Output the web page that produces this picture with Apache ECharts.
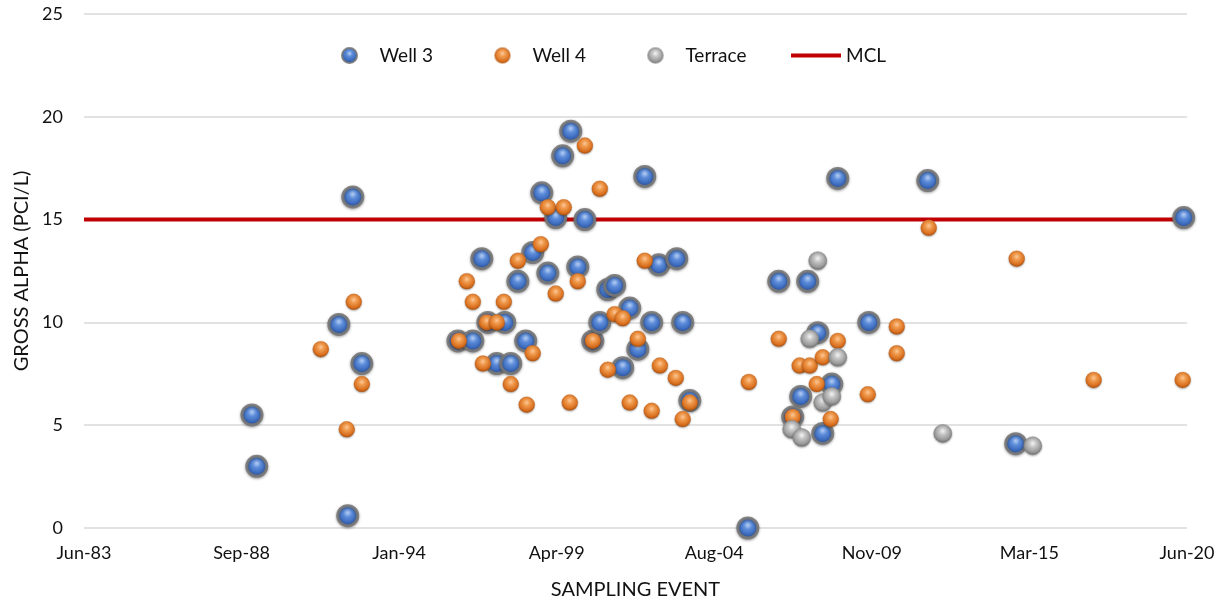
<!DOCTYPE html>
<html>
<head>
<meta charset="utf-8">
<script src="https://cdn.jsdelivr.net/npm/echarts@6/dist/echarts.min.js"></script>
<style>
html,body{margin:0;padding:0;background:#fff;}
#chart{width:1223px;height:604px;}
</style>
</head>
<body>
<div id="chart"></div>
<script>
// ---- data ----
const well3Dates = ['1989-02-01','1989-04-01','1992-01-02','1992-06-21','1992-04-20','1992-10-10','1996-01-01','1996-07-01','1996-10-19','1997-01-01','1997-07-27','1997-04-20','1997-10-09','1998-01-04','1998-04-10','1998-07-05','1998-10-24','1999-01-06','1999-04-13','1999-07-07','1999-10-14','2000-01-08','2000-04-04','2000-07-10','2000-10-04','2001-01-10','2001-04-04','2001-10-06','2001-07-12','2002-01-13','2002-04-08','2002-07-02','2002-09-27','2003-05-05','2003-07-17','2003-10-12','2005-09-22','2006-10-06','2007-09-26','2007-07-02','2007-03-26','2008-01-27','2008-07-17','2008-03-28','2008-09-28','2009-10-13','2011-10-06','2014-09-18','2020-05-08'];
const well3Values = [5.5,3.0,9.9,16.1,0.6,8.0,9.1,9.1,13.1,10.0,10.0,8.0,8.0,12.0,9.1,13.4,16.3,12.4,15.1,18.1,19.3,12.7,15.0,9.1,10.0,11.6,11.8,10.7,7.8,8.7,17.1,10.0,12.8,13.1,10.0,6.2,0.0,12.0,12.0,6.4,5.4,9.5,7.0,4.6,17.0,10.0,16.9,4.1,15.1];

const well4Dates = ['1991-05-26','1992-07-03','1992-04-08','1992-10-10','1996-01-11','1996-04-18','1996-07-01','1996-11-01','1996-12-20','1997-04-20','1997-07-16','1997-10-09','1998-01-04','1998-04-22','1998-07-05','1998-10-12','1999-01-06','1999-04-13','1999-07-20','1999-10-02','2000-01-08','2000-04-04','2000-07-10','2000-10-04','2001-01-10','2001-04-04','2001-07-12','2001-10-06','2002-01-13','2002-04-08','2002-07-02','2002-10-10','2003-04-23','2003-07-17','2003-10-12','2005-10-04','2006-10-06','2007-03-26','2007-06-20','2007-10-21','2008-01-15','2008-03-28','2008-07-04','2008-09-28','2009-10-01','2010-09-21','2010-09-21','2011-10-18','2014-09-30','2017-04-30','2020-04-25'];
const well4Values = [8.7,11.0,4.8,7.0,9.1,12.0,11.0,8.0,10.0,10.0,11.0,7.0,13.0,6.0,8.5,13.8,15.6,11.4,15.6,6.1,12.0,18.6,9.1,16.5,7.7,10.4,10.2,6.1,9.2,13.0,5.7,7.9,7.3,5.3,6.1,7.1,9.2,5.4,7.9,7.9,7.0,8.3,5.3,9.1,6.5,9.8,8.5,14.6,13.1,7.2,7.2];

const terraceDates = ['2007-03-14','2007-07-15','2007-10-21','2008-01-27','2008-03-28','2008-07-17','2008-09-28','2012-04-07','2015-04-15'];
const terraceValues = [4.8,4.4,9.2,13.0,6.1,6.4,8.3,4.6,4.0];

const mclDates = ['1983-06-15','2020-06-17'];
const mclValues = [15,15];

const xTickLabels = ['Jun-83','Sep-88','Jan-94','Apr-99','Aug-04','Nov-09','Mar-15','Jun-20'];
const yTicks = [0,5,10,15,20,25];

// ---- helpers ----
const AXIS_START = '1983-06-15';
const TICK_DAYS = 1931;
function dayOffset(s){
  const p = s.split('-').map(Number);
  const q = AXIS_START.split('-').map(Number);
  return (Date.UTC(p[0],p[1]-1,p[2]) - Date.UTC(q[0],q[1]-1,q[2]))/86400000;
}
function pairs(dates, vals){ return dates.map((d,i)=>[dayOffset(d), vals[i]]); }

function sphere(stops){
  return {type:'radial', x:0.5, y:0.38, r:0.62,
    colorStops: stops.map((c,i)=>({offset:[0,0.3,0.75,1][i], color:c}))};
}
const FONT = 'Lato';
const TXT = '#111111';
const legendText = {fontFamily:FONT, fontSize:19, color:TXT};

const chart = echarts.init(document.getElementById('chart'), null, {renderer:'canvas'});
chart.setOption({
  backgroundColor:'#ffffff',
  animation:false,
  textStyle:{fontFamily:FONT},
  grid:{left:84, right:36, top:14, bottom:76, containLabel:false, outerBoundsMode:'none'},
  legend:[
    {
      left:336, top:41, itemGap:61, itemWidth:50, itemHeight:15,
      textStyle:legendText,
      data:[{name:'Well 3'},{name:'Well 4'},{name:'Terrace'}]
    },
    {
      left:786, top:41, itemWidth:50, itemHeight:15,
      textStyle:legendText,
      data:[{name:'MCL', icon:'path://M0,0 L50,0 L50,4 L0,4 Z', itemStyle:{color:'#c00000'}}]
    }
  ],
  xAxis:{
    type:'value', min:0, max:TICK_DAYS*(xTickLabels.length-1), interval:TICK_DAYS,
    name:'SAMPLING EVENT', nameLocation:'middle', nameGap:52,
    nameTextStyle:{fontFamily:FONT, fontSize:20, color:TXT},
    axisLine:{show:false}, axisTick:{show:false}, splitLine:{show:false},
    axisLabel:{fontFamily:FONT, fontSize:18, color:TXT, margin:16, showMaxLabel:true, showMinLabel:true,
      formatter:(v)=>xTickLabels[Math.round(v/TICK_DAYS)] || ''}
  },
  yAxis:{
    type:'value', min:yTicks[0], max:yTicks[yTicks.length-1], interval:yTicks[1]-yTicks[0],
    name:'GROSS ALPHA (PCI/L)', nameLocation:'middle', nameGap:52, nameRotate:90,
    nameTextStyle:{fontFamily:FONT, fontSize:20, color:TXT},
    axisLine:{show:false}, axisTick:{show:false},
    splitLine:{lineStyle:{color:'#d9d9d9', width:1.5}},
    axisLabel:{fontFamily:FONT, fontSize:18, color:TXT, margin:21}
  },
  series:[
    {
      name:'Well 3', type:'scatter', symbol:'circle', symbolSize:20, z:3,
      data:pairs(well3Dates, well3Values),
      itemStyle:{color:sphere(['#b4cdf3','#5b8bd9','#3462b5','#1d3f82']),
        borderColor:'rgba(120,120,120,0.9)', borderWidth:3,
        shadowBlur:3, shadowColor:'rgba(0,0,0,0.35)', shadowOffsetY:1, opacity:1}
    },
    {
      name:'Well 4', type:'scatter', symbol:'circle', symbolSize:16, z:4,
      data:pairs(well4Dates, well4Values),
      itemStyle:{color:sphere(['#fcc89a','#f09b4e','#d96f1f','#a24d0e']),
        borderColor:'rgba(190,100,30,0.5)', borderWidth:0.5,
        shadowBlur:2, shadowColor:'rgba(0,0,0,0.3)', shadowOffsetY:1, opacity:1}
    },
    {
      name:'Terrace', type:'scatter', symbol:'circle', symbolSize:18, z:5,
      data:pairs(terraceDates, terraceValues),
      itemStyle:{color:sphere(['#f4f4f4','#c6c6c6','#979797','#636363']),
        borderColor:'rgba(140,140,140,0.6)', borderWidth:1,
        shadowBlur:2, shadowColor:'rgba(0,0,0,0.3)', shadowOffsetY:1, opacity:1}
    },
    {
      name:'MCL', type:'line', symbol:'none', z:2,
      data:pairs(mclDates, mclValues),
      lineStyle:{color:'#c00000', width:4},
      itemStyle:{color:'#c00000'}
    }
  ]
});
</script>
</body>
</html>
